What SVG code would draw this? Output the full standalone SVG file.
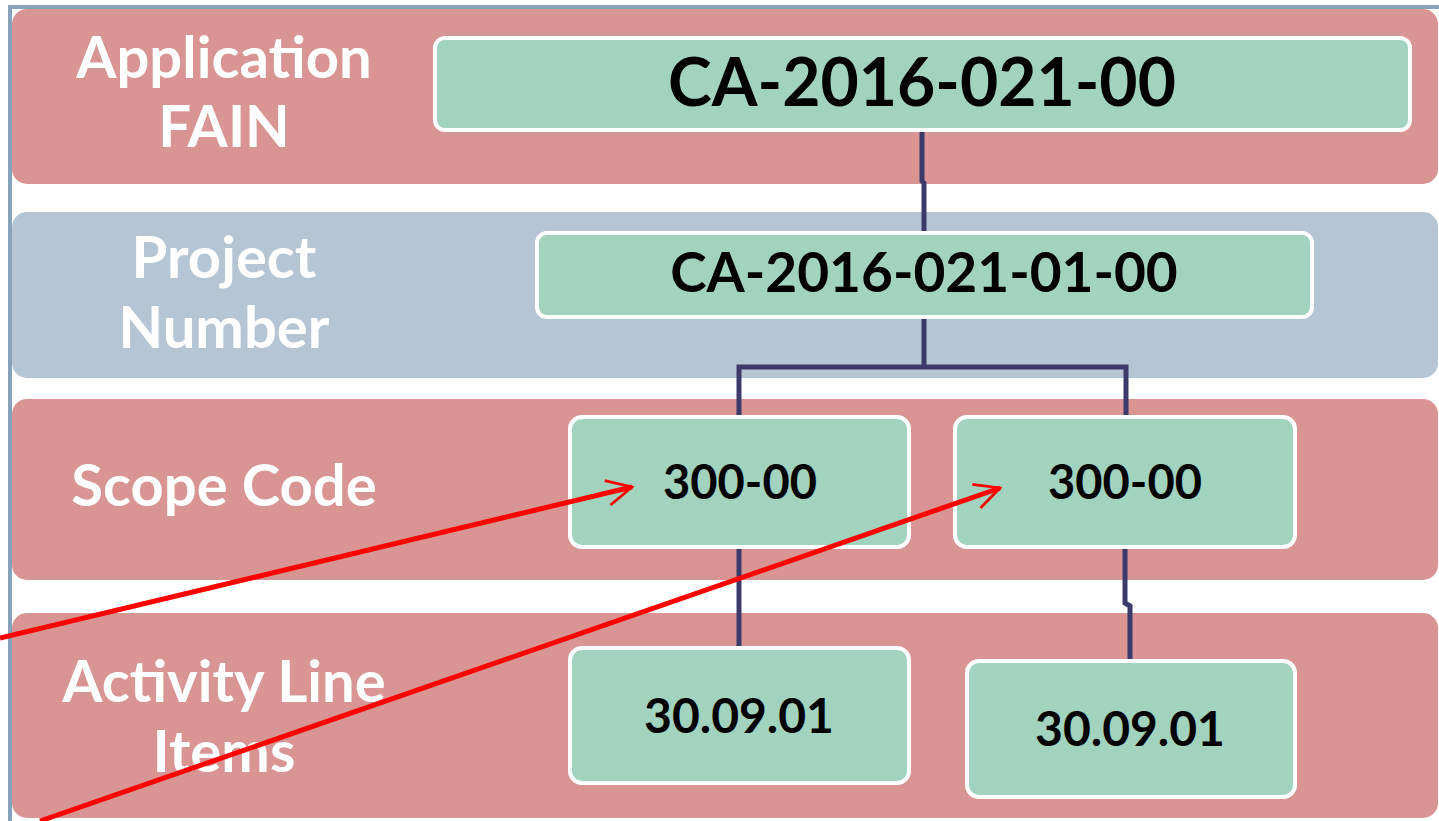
<svg xmlns="http://www.w3.org/2000/svg" width="1439" height="821" viewBox="0 0 1439 821">
  <style>
    .band-red { fill: #d99594; }
    .band-blue { fill: #b6c5d4; }
    .label { font-family: Lato, "Open Sans", sans-serif; font-weight: bold; fill: #ffffff; text-anchor: middle; }
    .node rect { fill: #a1d3bf; stroke: #ffffff; stroke-width: 4; }
    .node text { font-family: Lato, "Open Sans", sans-serif; font-weight: bold; fill: #000000; text-anchor: middle; }
    .conn { fill: none; stroke: #3b3a6b; stroke-width: 5; }
    .pointer { fill: none; stroke: #ff0000; stroke-width: 5; }
  </style>
  <defs>
    <marker id="open-arrow" viewBox="0 0 12 12" refX="11" refY="6" markerWidth="6" markerHeight="6" orient="auto" markerUnits="strokeWidth">
      <path d="M1,1 L11,6 L1,11" fill="none" stroke="#ff0000" stroke-width="1.1"/>
    </marker>
  </defs>

  <rect width="1439" height="821" fill="#ffffff"/>
  <!-- frame -->
  <line x1="8" y1="7" x2="1439" y2="7" stroke="#87a2bb" stroke-width="4"/>
  <line x1="10" y1="5" x2="10" y2="821" stroke="#87a2bb" stroke-width="4"/>

  <!-- level bands -->
  <g id="band-fain">
    <rect class="band-red" x="12" y="9" width="1426" height="175" rx="15"/>
    <text class="label" x="224" y="78" font-size="58">Application</text>
    <text class="label" x="224" y="147" font-size="58">FAIN</text>
  </g>
  <g id="band-project">
    <rect class="band-blue" x="12" y="212" width="1426" height="166" rx="15"/>
    <text class="label" x="224" y="278" font-size="58">Project</text>
    <text class="label" x="224" y="348" font-size="58">Number</text>
  </g>
  <g id="band-scope">
    <rect class="band-red" x="12" y="399" width="1426" height="181" rx="15"/>
    <text class="label" x="224" y="506" font-size="58">Scope Code</text>
  </g>
  <g id="band-activity">
    <rect class="band-red" x="12" y="613" width="1426" height="205" rx="15"/>
    <text class="label" x="224" y="702" font-size="58">Activity Line</text>
    <text class="label" x="224" y="772" font-size="58">Items</text>
  </g>

  <!-- hierarchy connectors -->
  <g id="connectors">
    <path class="conn" d="M922,131 V181 L924,183 V232"/>
    <path class="conn" d="M924,318 V367 M739,416 V367 H1126 V416"/>
    <path class="conn" d="M739,548 V647"/>
    <path class="conn" d="M1125,548 V603 L1130,606 V660"/>
  </g>

  <g id="node-fain" class="node">
    <rect x="435" y="38" width="975" height="92" rx="10"/>
    <text x="922" y="106" font-size="66">CA-2016-021-00</text>
  </g>
  <g id="node-project" class="node">
    <rect x="537" y="233" width="775" height="84" rx="10"/>
    <text x="924" y="292" font-size="55">CA-2016-021-01-00</text>
  </g>
  <g id="node-scope-1" class="node">
    <rect x="570" y="417" width="339" height="130" rx="12"/>
    <text x="740" y="499" font-size="47">300-00</text>
  </g>
  <g id="node-scope-2" class="node">
    <rect x="955" y="417" width="340" height="130" rx="12"/>
    <text x="1125" y="499" font-size="47">300-00</text>
  </g>
  <g id="node-activity-1" class="node">
    <rect x="570" y="648" width="339" height="135" rx="12"/>
    <text x="739" y="733" font-size="48">30.09.01</text>
  </g>
  <g id="node-activity-2" class="node">
    <rect x="967" y="661" width="328" height="136" rx="12"/>
    <text x="1130" y="746" font-size="48">30.09.01</text>
  </g>

  <!-- red pointers -->
  <g id="pointers">
    <line class="pointer" x1="0" y1="638" x2="632" y2="487" marker-end="url(#open-arrow)"/>
    <line class="pointer" x1="40" y1="821" x2="1000" y2="488" marker-end="url(#open-arrow)"/>
  </g>
</svg>
